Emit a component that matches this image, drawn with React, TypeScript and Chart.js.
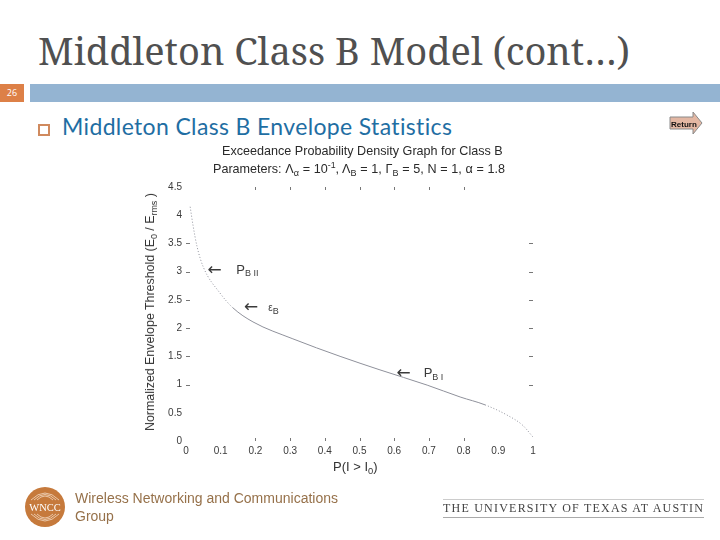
import React, { useEffect, useRef } from "react";
import { Chart, registerables } from "chart.js";

Chart.register(...registerables);

const probability = [0.012, 0.02, 0.032, 0.05, 0.098, 0.135, 0.193, 0.308, 0.444, 0.559, 0.695, 0.79, 0.862, 0.925, 0.97, 1];
const threshold = [4.15, 3.83, 3.44, 3.08, 2.62, 2.36, 2.11, 1.81, 1.5, 1.26, 0.99, 0.78, 0.64, 0.46, 0.28, 0.07];
const xTickMarks = [0.2, 0.3, 0.4, 0.5, 0.6, 0.7, 0.8];
const yTickMarks = [1, 1.5, 2, 2.5, 3, 3.5];
const notes = [
  { x: 0.085, y: 3.02, arrow: true, text: "", sub: "" },
  { x: 0.19, y: 2.36, arrow: true, text: "", sub: "" },
  { x: 0.63, y: 1.19, arrow: true, text: "", sub: "" },
  { x: 0.145, y: 3.03, arrow: false, text: "P", sub: "B II" },
  { x: 0.237, y: 2.36, arrow: false, text: "ε", sub: "B" },
  { x: 0.685, y: 1.2, arrow: false, text: "P", sub: "B I" },
];

const inkColor = "#3a3a3a";

const overlayPlugin = {
  id: "overlay",
  afterDatasetsDraw(chart: any) {
    const { ctx, scales, chartArea } = chart;
    ctx.save();
    ctx.strokeStyle = "#777";
    ctx.lineWidth = 1;
    ctx.beginPath();
    for (const v of xTickMarks) {
      const px = Math.round(scales.x.getPixelForValue(v)) + 0.5;
      ctx.moveTo(px, chartArea.top);
      ctx.lineTo(px, chartArea.top + 3);
      ctx.moveTo(px, chartArea.bottom - 3);
      ctx.lineTo(px, chartArea.bottom);
    }
    for (const v of yTickMarks) {
      const py = Math.round(scales.y.getPixelForValue(v)) + 0.5;
      ctx.moveTo(chartArea.left, py);
      ctx.lineTo(chartArea.left + 4, py);
      ctx.moveTo(chartArea.right - 4, py);
      ctx.lineTo(chartArea.right, py);
    }
    ctx.stroke();
    ctx.fillStyle = inkColor;
    ctx.textBaseline = "middle";
    ctx.textAlign = "left";
    for (const n of notes) {
      const px = scales.x.getPixelForValue(n.x);
      const py = scales.y.getPixelForValue(n.y);
      if (n.arrow) {
        ctx.font = "17px 'DejaVu Sans'";
        ctx.fillText("←", px - 8, py);
      } else {
        ctx.font = n.text === "ε" ? "10px 'Liberation Sans'" : "13px 'Liberation Sans'";
        ctx.fillText(n.text, px, py);
        const w = ctx.measureText(n.text).width;
        ctx.font = "9px 'Liberation Sans'";
        ctx.fillText(n.sub, px + w, py + 4);
      }
    }
    ctx.restore();
  },
};

const label = (v: any) => String(v);

function Sub({ children }: { children: React.ReactNode }) {
  return <span style={{ fontSize: "0.72em", position: "relative", top: "0.35em", verticalAlign: "baseline" }}>{children}</span>;
}

const abs = (s: React.CSSProperties): React.CSSProperties => ({ position: "absolute", whiteSpace: "nowrap", margin: 0, ...s });

export default function App() {
  const ref = useRef<HTMLCanvasElement | null>(null);
  useEffect(() => {
    document.body.style.margin = "0";
    const chart = new Chart(ref.current as HTMLCanvasElement, {
      type: "line",
      data: {
        labels: probability,
        datasets: [
          {
            data: probability.map((p, i) => ({ x: p, y: threshold[i] })),
            borderColor: "#8f919b",
            borderWidth: 1,
            pointRadius: 0,
            cubicInterpolationMode: "monotone",
            segment: {
              borderDash: (c: any) => (c.p0.parsed.x < 0.13 || c.p0.parsed.x > 0.85 ? [1, 2] : undefined),
            },
          },
        ],
      },
      options: {
        responsive: false,
        animation: false,
        layout: { autoPadding: false, padding: { left: 156, right: 187, top: 187, bottom: 79 } },
        plugins: { legend: { display: false }, tooltip: { enabled: false } },
        scales: {
          x: {
            type: "linear",
            min: 0,
            max: 1,
            border: { display: false },
            grid: { display: false, tickLength: 0 },
            afterFit: (s: any) => { s.height = 20; },
            ticks: {
              stepSize: 0.1,
              maxRotation: 0,
              autoSkip: false,
              padding: 4,
              color: inkColor,
              font: { family: "'Liberation Sans'", size: 10 },
              callback: (v: any) => label(Math.round(Number(v) * 10) / 10),
            },
          },
          y: {
            type: "linear",
            min: 0,
            max: 4.5,
            border: { display: false },
            grid: { display: false, tickLength: 0 },
            afterFit: (s: any) => { s.width = 30; },
            ticks: {
              stepSize: 0.5,
              autoSkip: false,
              padding: 4,
              color: inkColor,
              font: { family: "'Liberation Sans'", size: 10 },
              callback: label,
            },
          },
        },
      },
      plugins: [overlayPlugin],
    } as any);
    return () => chart.destroy();
  }, []);

  const sans = "'Liberation Sans', sans-serif";
  return (
    <div style={{ position: "relative", width: 720, height: 540, overflow: "hidden", background: "#fff" }}>
      <h1 style={abs({ left: 38, top: 25, fontFamily: "'Noto Serif', 'DejaVu Serif', serif", fontWeight: 400, fontSize: 38, lineHeight: "50px", color: "#505050" })}>
        Middleton Class B Model (cont…)
      </h1>
      <div style={abs({ left: 30, top: 84, width: 690, height: 18, background: "#94b4d2" })} />
      <div style={abs({ left: 0, top: 84, width: 24, height: 18, background: "#dd8047", color: "#fff", fontFamily: "'Open Sans'", fontSize: 9, lineHeight: "18px", textAlign: "center" })}>26</div>
      <div style={abs({ left: 38, top: 124, width: 8, height: 8, border: "2px solid #d08a5e" })} />
      <div style={abs({ left: 62, top: 111, fontFamily: "Lato, sans-serif", fontSize: 23, lineHeight: "30px", color: "#1f6ea3", letterSpacing: 0.35 })}>
        Middleton Class B Envelope Statistics
      </div>
      <canvas ref={ref} width={720} height={540} style={{ position: "absolute", left: 0, top: 0 }} />
      <div style={abs({ left: 222, top: 144, fontFamily: sans, fontSize: 12.6, lineHeight: "15px", color: "#2a2a2a" })}>
        Exceedance Probability Density Graph for Class B
      </div>
      <div style={abs({ left: 213, top: 162, fontFamily: sans, fontSize: 12.6, lineHeight: "15px", color: "#2a2a2a", wordSpacing: 0.2 })}>
        Parameters: Λ<Sub>α</Sub> = 10<sup style={{ fontSize: "0.7em", lineHeight: 0 }}>-1</sup>, Λ<Sub>B</Sub> = 1, Γ<Sub>B</Sub> = 5, N = 1, α = 1.8
      </div>
      <div style={abs({ left: 333, top: 459, fontFamily: sans, fontSize: 13, lineHeight: "15px", color: "#333" })}>
        P(I &gt; I<Sub>0</Sub>)
      </div>
      <div style={abs({ left: 151, top: 312, transform: "translate(-50%,-50%) rotate(-90deg)", fontFamily: sans, fontSize: 12.4, lineHeight: "15px", color: "#333" })}>
        Normalized Envelope Threshold (E<Sub>0</Sub> / E<Sub>rms</Sub> )
      </div>
      <svg width={54} height={22} style={{ position: "absolute", left: 660, top: 112 }}>
        <polygon points="10,5 33,5 33,0 42,11 33,22 33,17 10,17" fill="#e3b7a3" stroke="#8a8a8a" strokeWidth={1} />
        <text x={11} y={14.5} fontFamily={sans} fontSize={8} fontWeight={700} fill="#111">Return</text>
      </svg>
      <svg width={44} height={44} style={{ position: "absolute", left: 25, top: 485 }}>
        <circle cx={20} cy={22} r={20} fill="#c67a3c" />
        {[8, 11, 14].map((r) => (
          <path key={"t" + r} d={`M ${20 - r} 15 Q 20 ${15 - r} ${20 + r} 15`} fill="none" stroke="#f3dcc6" strokeWidth={0.8} />
        ))}
        {[8, 11, 14].map((r) => (
          <path key={"b" + r} d={`M ${20 - r} 29 Q 20 ${29 + r} ${20 + r} 29`} fill="none" stroke="#f3dcc6" strokeWidth={0.8} />
        ))}
        <text x={20} y={26} textAnchor="middle" fontFamily="'Liberation Serif'" fontSize={10.5} fill="#fff">WNCC</text>
      </svg>
      <div style={abs({ left: 75, top: 489, fontFamily: sans, fontSize: 14, lineHeight: "18px", color: "#96714a", whiteSpace: "normal", width: 280 })}>
        Wireless Networking and Communications Group
      </div>
      <div style={abs({ left: 443, top: 499, width: 261, height: 1, background: "#ccc" })} />
      <div style={abs({ left: 443, top: 500, fontFamily: "'Liberation Serif', serif", fontSize: 12, lineHeight: "16px", letterSpacing: 1.22, color: "#444" })}>
        THE UNIVERSITY OF TEXAS AT AUSTIN
      </div>
      <div style={abs({ left: 443, top: 517, width: 261, height: 1, background: "#aaa" })} />
    </div>
  );
}
